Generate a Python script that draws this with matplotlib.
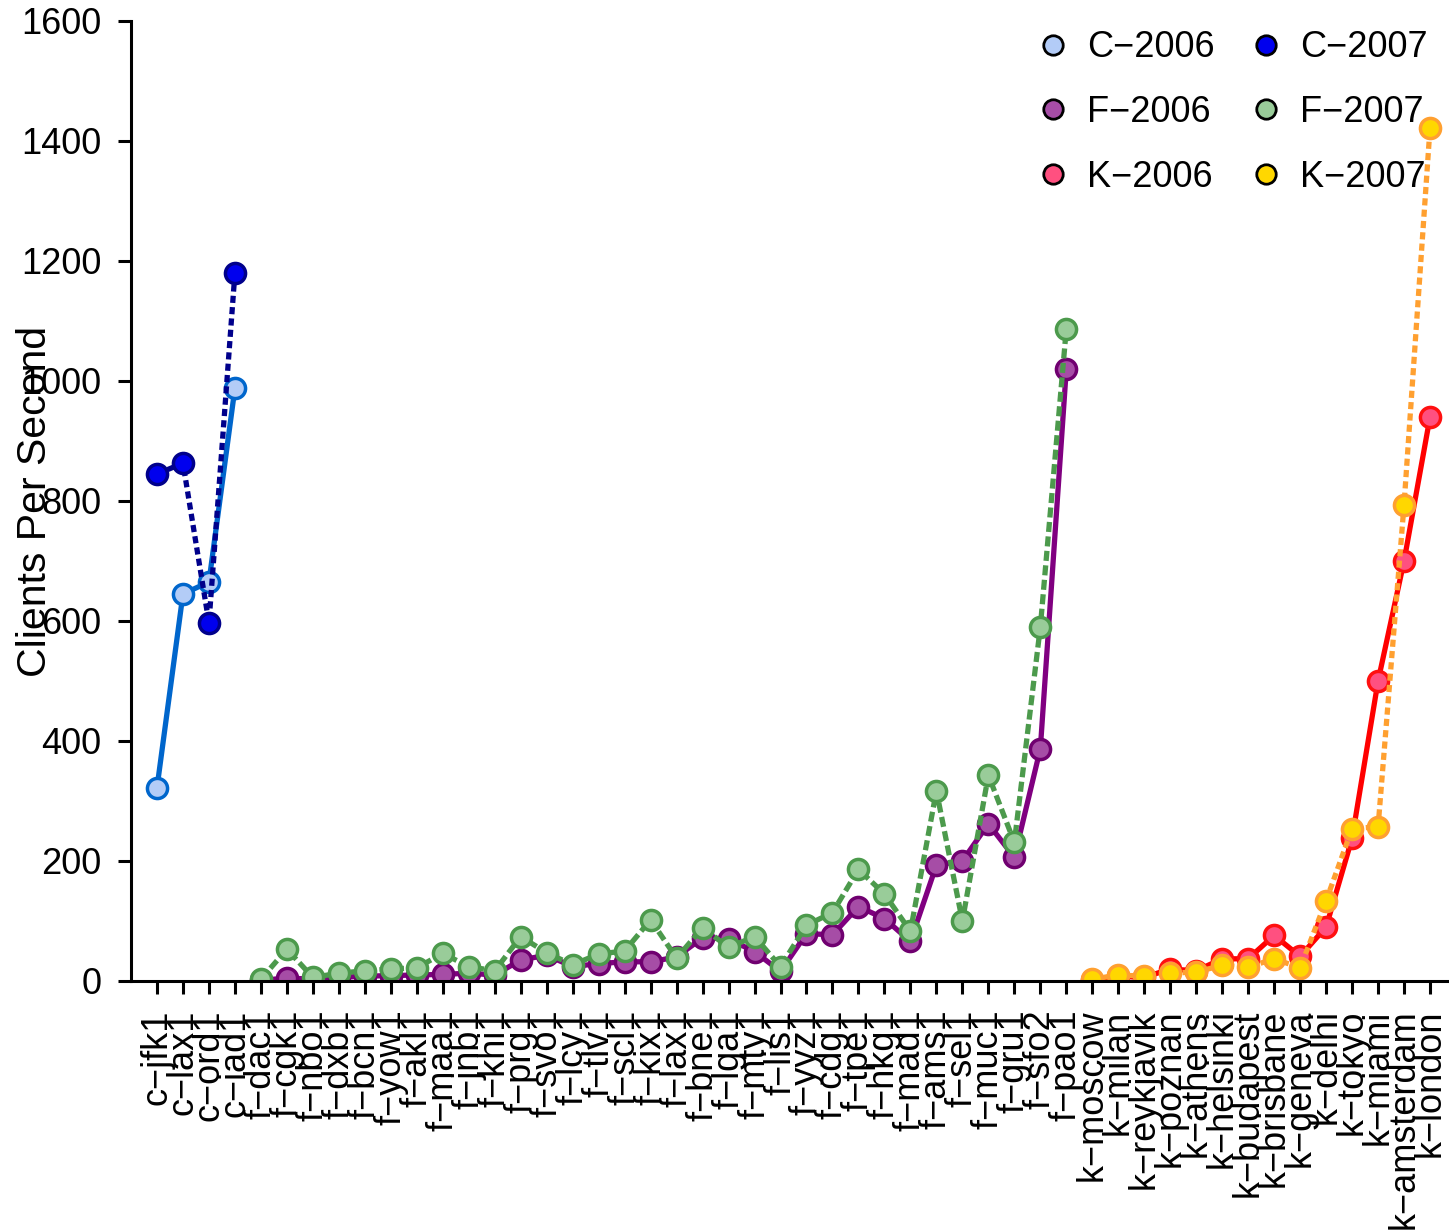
import numpy as np
import matplotlib
matplotlib.use("Agg")
import matplotlib.pyplot as plt
from matplotlib.lines import Line2D

plt.rcParams['font.family'] = ['Liberation Sans', 'DejaVu Sans']

c_sites = ["c−jfk1", "c−lax1", "c−ord1", "c−iad1"]
f_sites = ["f−dac1", "f−cgk1", "f−nbo1", "f−dxb1", "f−bcn1", "f−yow1", "f−akl1",
           "f−maa1", "f−jnb1", "f−khi1", "f−prg1", "f−svo1", "f−lcy1", "f−tlv1",
           "f−scl1", "f−kix1", "f−lax1", "f−bne1", "f−lga1", "f−mty1", "f−lis1",
           "f−yyz1", "f−cdg1", "f−tpe1", "f−hkg1", "f−mad1", "f−ams1", "f−sel1",
           "f−muc1", "f−gru1", "f−sfo2", "f−pao1"]
k_sites = ["k−moscow", "k−milan", "k−reykjavik", "k−poznan", "k−athens",
           "k−helsinki", "k−budapest", "k−brisbane", "k−geneva", "k−delhi",
           "k−tokyo", "k−miami", "k−amsterdam", "k−london"]

c_2006 = [322, 645, 665, 988]
c_2007 = [845, 863, 597, 1180]
f_2006 = [1, 5, 3, 6, 8, 9, 10, 11, 13, 10, 35, 43, 24, 29, 32, 32, 40, 72, 70,
          49, 16, 79, 77, 124, 104, 66, 193, 200, 262, 206, 387, 1020]
f_2007 = [3, 53, 6, 13, 17, 20, 22, 46, 24, 17, 74, 47, 27, 45, 50, 102, 38, 89,
          56, 74, 24, 93, 114, 186, 145, 83, 317, 100, 343, 231, 590, 1087]
k_2006 = [2, 8, 6, 20, 17, 37, 37, 76, 41, 90, 238, 500, 700, 940]
k_2007 = [3, 10, 8, 13, 15, 26, 23, 37, 22, 134, 254, 257, 794, 1422]

labels = c_sites + f_sites + k_sites
xc = np.arange(len(c_sites))
xf = np.arange(len(f_sites)) + len(c_sites)
xk = np.arange(len(k_sites)) + len(c_sites) + len(f_sites)

W, H = 1449, 1231
fig = plt.figure(figsize=(W / 100, H / 100), dpi=100)
ax = fig.add_axes([131 / W, 250 / H, 1 - 131 / W, (981 - 21) / H])

dot = (1.35, 0.8)
dash = (1.9, 0.85)
series = [
    (xc, c_2006, '#0066CC', '#B3CCF7', '#0066CC', '-', "C−2006"),
    (xc, c_2007, '#00008B', '#0000EE', '#00008B', (0, dot), "C−2007"),
    (xf, f_2006, '#800080', '#A64DA6', '#700070', '-', "F−2006"),
    (xf, f_2007, '#4C9A4C', '#99CC99', '#4C9A4C', (0, dash), "F−2007"),
    (xk, k_2006, '#FF0000', '#FF5080', '#FF1010', '-', "K−2006"),
    (xk, k_2007, '#FFA030', '#FFD700', '#FFA030', (0, dot), "K−2007"),
]
for x, y, lc, fc, ec, ls, lab in series:
    ax.plot(x, y, color=lc, lw=3.8, ls=ls, marker='o', ms=14.5, mfc=fc, mec=ec,
            mew=2.5, solid_joinstyle='miter', dash_joinstyle='miter')

ax.set_xlim(-1, 49.73)
ax.set_ylim(0, 1600)
ax.set_yticks(np.arange(0, 1601, 200))
ax.set_xticks(np.arange(len(labels)))
ax.set_xticklabels(labels, rotation=90, ha='center', va='top')

for side in ('top', 'right'):
    ax.spines[side].set_visible(False)
for side in ('left', 'bottom'):
    ax.spines[side].set_linewidth(2.2)
ax.tick_params(axis='both', length=9.5, width=2.2, labelsize=26, direction='out')
ax.tick_params(axis='y', pad=12)
ax.tick_params(axis='x', pad=11)

fig.text(35 / W, 1 - 501 / H, "Clients Per Second", rotation=90,
         ha='center', va='center', fontsize=29.5)

order = [0, 2, 4, 1, 3, 5]
handles = []
for i in order:
    s = series[i]
    handles.append(Line2D([], [], ls='none', marker='o', ms=14, mfc=s[3],
                          mec='black', mew=2, label=s[6]))
ax.legend(handles=handles, ncol=2, frameon=False, fontsize=26,
          loc='upper right', bbox_to_anchor=(1442 / W, 1 - 16 / H),
          bbox_transform=fig.transFigure, handlelength=0.8, handletextpad=0.55,
          columnspacing=1.0, labelspacing=0.82, borderaxespad=0)

fig.savefig("out.png", dpi=100)
